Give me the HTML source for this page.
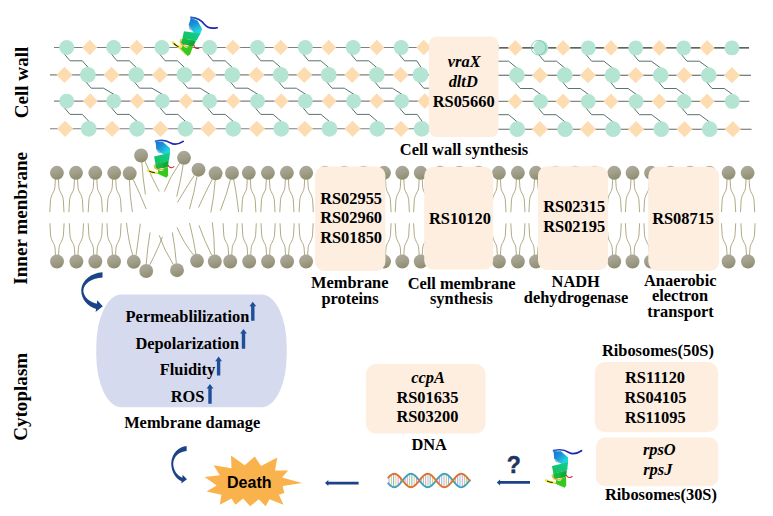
<!DOCTYPE html>
<html><head><meta charset="utf-8"><title>Diagram</title>
<style>html,body{margin:0;padding:0;background:#fff;}body{width:773px;height:516px;overflow:hidden;}svg{display:block;}text{font-family:"Liberation Serif",serif;font-weight:bold;fill:#000;}</style>
</head><body>
<svg width="773" height="516" viewBox="0 0 773 516">
<defs>
<linearGradient id="hg" x1="0.3" y1="0" x2="0.6" y2="1"><stop offset="0" stop-color="#aeaa9f"/><stop offset="0.5" stop-color="#a19e89"/><stop offset="1" stop-color="#8e8c6d"/></linearGradient>
<linearGradient id="pg1" x1="0" y1="0" x2="1" y2="1"><stop offset="0" stop-color="#1a6ad2"/><stop offset="0.4" stop-color="#1b92d8"/><stop offset="0.7" stop-color="#1fcadc"/><stop offset="1" stop-color="#24e6d6"/></linearGradient>
<linearGradient id="pgt" x1="0" y1="0" x2="1" y2="0"><stop offset="0" stop-color="#2268d4"/><stop offset="0.4" stop-color="#1a2cb4"/><stop offset="1" stop-color="#1a22a8"/></linearGradient>
<linearGradient id="pg2" x1="1" y1="0" x2="0" y2="1"><stop offset="0" stop-color="#12cc9a"/><stop offset="1" stop-color="#14c254"/></linearGradient>
<linearGradient id="pg3" x1="0" y1="0" x2="1" y2="1"><stop offset="0" stop-color="#16c04a"/><stop offset="1" stop-color="#12ae38"/></linearGradient>
</defs>
<rect width="773" height="516" fill="#fff"/>
<!-- cell wall -->
<line x1="54.0" y1="47.5" x2="470" y2="47.5" stroke="#7f7f7f" stroke-width="1.1"/>
<line x1="470" y1="47.9" x2="749.0" y2="47.9" stroke="#2e2e2e" stroke-width="1.1"/>
<line x1="50.0" y1="74.9" x2="470" y2="74.9" stroke="#7f7f7f" stroke-width="1.1"/>
<line x1="470" y1="75.2" x2="751.0" y2="75.2" stroke="#555" stroke-width="1.1"/>
<line x1="54.0" y1="101.1" x2="470" y2="101.1" stroke="#7f7f7f" stroke-width="1.1"/>
<line x1="470" y1="101.4" x2="749.4" y2="101.4" stroke="#858585" stroke-width="1.1"/>
<line x1="50.0" y1="128.8" x2="470" y2="128.8" stroke="#7f7f7f" stroke-width="1.1"/>
<line x1="470" y1="129.2" x2="751.5" y2="129.2" stroke="#666" stroke-width="1.1"/>
<path d="M63.9,53.5 L70.0,60.8 L82.3,60.8 L89.4,68.9" fill="none" stroke="#4f6b68" stroke-width="0.95"/>
<path d="M110.9,53.5 L117.0,60.8 L129.3,60.8 L137.8,68.9" fill="none" stroke="#4f6b68" stroke-width="0.95"/>
<path d="M159.1,53.5 L165.2,60.8 L177.5,60.8 L186.0,68.9" fill="none" stroke="#4f6b68" stroke-width="0.95"/>
<path d="M206.8,53.5 L212.9,60.8 L225.2,60.8 L233.8,68.9" fill="none" stroke="#4f6b68" stroke-width="0.95"/>
<path d="M254.7,53.5 L260.8,60.8 L273.1,60.8 L282.2,68.9" fill="none" stroke="#4f6b68" stroke-width="0.95"/>
<path d="M302.5,53.5 L308.6,60.8 L320.9,60.8 L330.2,68.9" fill="none" stroke="#4f6b68" stroke-width="0.95"/>
<path d="M350.4,53.5 L356.5,60.8 L368.8,60.8 L378.3,68.9" fill="none" stroke="#4f6b68" stroke-width="0.95"/>
<path d="M398.4,53.5 L404.5,60.8 L416.8,60.8 L422.0,68.9" fill="none" stroke="#4f6b68" stroke-width="0.95"/>
<path d="M446.2,53.5 L452.3,60.8 L464.6,60.8 L469.5,68.9" fill="none" stroke="#4f6b68" stroke-width="0.95"/>
<path d="M85.1,80.9 L91.2,88.2 L103.5,88.2 L115.2,95.1" fill="none" stroke="#4f6b68" stroke-width="0.95"/>
<path d="M133.5,80.9 L139.6,88.2 L151.9,88.2 L163.8,95.1" fill="none" stroke="#4f6b68" stroke-width="0.95"/>
<path d="M181.7,80.9 L187.8,88.2 L200.1,88.2 L211.1,95.1" fill="none" stroke="#4f6b68" stroke-width="0.95"/>
<path d="M229.5,80.9 L235.6,88.2 L247.9,88.2 L259.0,95.1" fill="none" stroke="#4f6b68" stroke-width="0.95"/>
<path d="M277.9,80.9 L284.0,88.2 L296.3,88.2 L306.8,95.1" fill="none" stroke="#4f6b68" stroke-width="0.95"/>
<path d="M325.9,80.9 L332.0,88.2 L344.3,88.2 L355.1,95.1" fill="none" stroke="#4f6b68" stroke-width="0.95"/>
<path d="M374.0,80.9 L380.1,88.2 L392.4,88.2 L403.1,95.1" fill="none" stroke="#4f6b68" stroke-width="0.95"/>
<path d="M417.7,80.9 L423.8,88.2 L436.1,88.2 L450.9,95.1" fill="none" stroke="#4f6b68" stroke-width="0.95"/>
<path d="M465.2,80.9 L471.3,88.2 L483.6,88.2 L490.5,95.1" fill="none" stroke="#4f6b68" stroke-width="0.95"/>
<path d="M63.9,107.1 L70.0,114.4 L82.3,114.4 L90.2,122.8" fill="none" stroke="#4f6b68" stroke-width="0.95"/>
<path d="M110.9,107.1 L117.0,114.4 L129.3,114.4 L138.6,122.8" fill="none" stroke="#4f6b68" stroke-width="0.95"/>
<path d="M159.5,107.1 L165.6,114.4 L177.9,114.4 L187.0,122.8" fill="none" stroke="#4f6b68" stroke-width="0.95"/>
<path d="M206.8,107.1 L212.9,114.4 L225.2,114.4 L234.8,122.8" fill="none" stroke="#4f6b68" stroke-width="0.95"/>
<path d="M254.7,107.1 L260.8,114.4 L273.1,114.4 L282.8,122.8" fill="none" stroke="#4f6b68" stroke-width="0.95"/>
<path d="M302.5,107.1 L308.6,114.4 L320.9,114.4 L331.0,122.8" fill="none" stroke="#4f6b68" stroke-width="0.95"/>
<path d="M350.8,107.1 L356.9,114.4 L369.2,114.4 L378.9,122.8" fill="none" stroke="#4f6b68" stroke-width="0.95"/>
<path d="M398.8,107.1 L404.9,114.4 L417.2,114.4 L423.2,122.8" fill="none" stroke="#4f6b68" stroke-width="0.95"/>
<path d="M446.6,107.1 L452.7,114.4 L465.0,114.4 L471.0,122.8" fill="none" stroke="#4f6b68" stroke-width="0.95"/>
<path d="M538.1,53.9 L544.2,61.2 L556.5,61.2 L566.2,69.2" fill="none" stroke="#4f6b68" stroke-width="0.95"/>
<path d="M585.5,53.9 L591.6,61.2 L603.9,61.2 L614.0,69.2" fill="none" stroke="#4f6b68" stroke-width="0.95"/>
<path d="M632.9,53.9 L639.0,61.2 L651.3,61.2 L662.2,69.2" fill="none" stroke="#4f6b68" stroke-width="0.95"/>
<path d="M680.9,53.9 L687.0,61.2 L699.3,61.2 L710.2,69.2" fill="none" stroke="#4f6b68" stroke-width="0.95"/>
<path d="M514.1,81.2 L520.2,88.5 L532.5,88.5 L542.0,95.4" fill="none" stroke="#4f6b68" stroke-width="0.95"/>
<path d="M561.9,81.2 L568.0,88.5 L580.3,88.5 L589.8,95.4" fill="none" stroke="#4f6b68" stroke-width="0.95"/>
<path d="M609.7,81.2 L615.8,88.5 L628.1,88.5 L637.6,95.4" fill="none" stroke="#4f6b68" stroke-width="0.95"/>
<path d="M657.9,81.2 L664.0,88.5 L676.3,88.5 L685.6,95.4" fill="none" stroke="#4f6b68" stroke-width="0.95"/>
<path d="M705.9,81.2 L712.0,88.5 L724.3,88.5 L733.8,95.4" fill="none" stroke="#4f6b68" stroke-width="0.95"/>
<path d="M537.7,107.4 L543.8,114.7 L556.1,114.7 L566.6,123.2" fill="none" stroke="#4f6b68" stroke-width="0.95"/>
<path d="M585.5,107.4 L591.6,114.7 L603.9,114.7 L614.6,123.2" fill="none" stroke="#4f6b68" stroke-width="0.95"/>
<path d="M633.3,107.4 L639.4,114.7 L651.7,114.7 L662.8,123.2" fill="none" stroke="#4f6b68" stroke-width="0.95"/>
<path d="M681.3,107.4 L687.4,114.7 L699.7,114.7 L711.2,123.2" fill="none" stroke="#4f6b68" stroke-width="0.95"/>
<path d="M490.2,53.9 L496.3,61.2 L508.6,61.2 L518.4,69.2" fill="none" stroke="#4f6b68" stroke-width="0.95"/>
<path d="M490.2,107.4 L496.3,114.7 L508.6,114.7 L518.8,123.2" fill="none" stroke="#4f6b68" stroke-width="0.95"/>
<path d="M82.2,47.5 L89.7,39.7 L97.2,47.5 L89.7,55.3 Z" fill="#fddcb2"/>
<path d="M129.2,47.5 L136.7,39.7 L144.2,47.5 L136.7,55.3 Z" fill="#fddcb2"/>
<path d="M177.5,47.5 L185.0,39.7 L192.5,47.5 L185.0,55.3 Z" fill="#fddcb2"/>
<path d="M225.4,47.5 L232.9,39.7 L240.4,47.5 L232.9,55.3 Z" fill="#fddcb2"/>
<path d="M273.2,47.5 L280.7,39.7 L288.2,47.5 L280.7,55.3 Z" fill="#fddcb2"/>
<path d="M321.2,47.5 L328.7,39.7 L336.2,47.5 L328.7,55.3 Z" fill="#fddcb2"/>
<path d="M369.3,47.5 L376.8,39.7 L384.3,47.5 L376.8,55.3 Z" fill="#fddcb2"/>
<path d="M416.3,47.5 L423.8,39.7 L431.3,47.5 L423.8,55.3 Z" fill="#fddcb2"/>
<path d="M464.0,47.5 L471.5,39.7 L479.0,47.5 L471.5,55.3 Z" fill="#fddcb2"/>
<circle cx="66.7" cy="47.5" r="7.45" fill="#b4e4d2"/>
<circle cx="113.7" cy="47.5" r="7.45" fill="#b4e4d2"/>
<circle cx="161.9" cy="47.5" r="7.45" fill="#b4e4d2"/>
<circle cx="209.6" cy="47.5" r="7.45" fill="#b4e4d2"/>
<circle cx="257.5" cy="47.5" r="7.45" fill="#b4e4d2"/>
<circle cx="305.3" cy="47.5" r="7.45" fill="#b4e4d2"/>
<circle cx="353.2" cy="47.5" r="7.45" fill="#b4e4d2"/>
<circle cx="401.2" cy="47.5" r="7.45" fill="#b4e4d2"/>
<circle cx="449.0" cy="47.5" r="7.45" fill="#b4e4d2"/>
<circle cx="491.8" cy="47.5" r="7.45" fill="#b4e4d2"/>
<path d="M507.8,47.9 L515.3,40.1 L522.8,47.9 L515.3,55.699999999999996 Z" fill="#fddcb2"/>
<path d="M555.6,47.9 L563.1,40.1 L570.6,47.9 L563.1,55.699999999999996 Z" fill="#fddcb2"/>
<path d="M603.5,47.9 L611.0,40.1 L618.5,47.9 L611.0,55.699999999999996 Z" fill="#fddcb2"/>
<path d="M651.8,47.9 L659.3,40.1 L666.8,47.9 L659.3,55.699999999999996 Z" fill="#fddcb2"/>
<path d="M699.6,47.9 L707.1,40.1 L714.6,47.9 L707.1,55.699999999999996 Z" fill="#fddcb2"/>
<circle cx="540.9" cy="47.9" r="7.45" fill="#b4e4d2"/>
<circle cx="588.3" cy="47.9" r="7.45" fill="#b4e4d2"/>
<circle cx="635.7" cy="47.9" r="7.45" fill="#b4e4d2"/>
<circle cx="683.7" cy="47.9" r="7.45" fill="#b4e4d2"/>
<circle cx="731.9" cy="47.9" r="7.45" fill="#b4e4d2"/>
<path d="M56.4,74.9 L64.5,66.80000000000001 L72.6,74.9 L64.5,83.0 Z" fill="#fddcb2"/>
<path d="M103.4,74.9 L111.5,66.80000000000001 L119.6,74.9 L111.5,83.0 Z" fill="#fddcb2"/>
<path d="M151.8,74.9 L159.9,66.80000000000001 L168.0,74.9 L159.9,83.0 Z" fill="#fddcb2"/>
<path d="M200.4,74.9 L208.5,66.80000000000001 L216.6,74.9 L208.5,83.0 Z" fill="#fddcb2"/>
<path d="M248.4,74.9 L256.5,66.80000000000001 L264.6,74.9 L256.5,83.0 Z" fill="#fddcb2"/>
<path d="M296.2,74.9 L304.3,66.80000000000001 L312.4,74.9 L304.3,83.0 Z" fill="#fddcb2"/>
<path d="M344.1,74.9 L352.2,66.80000000000001 L360.3,74.9 L352.2,83.0 Z" fill="#fddcb2"/>
<path d="M392.5,74.9 L400.6,66.80000000000001 L408.7,74.9 L400.6,83.0 Z" fill="#fddcb2"/>
<path d="M440.4,74.9 L448.5,66.80000000000001 L456.6,74.9 L448.5,83.0 Z" fill="#fddcb2"/>
<circle cx="87.9" cy="74.9" r="7.85" fill="#b4e4d2"/>
<circle cx="136.3" cy="74.9" r="7.85" fill="#b4e4d2"/>
<circle cx="184.5" cy="74.9" r="7.85" fill="#b4e4d2"/>
<circle cx="232.3" cy="74.9" r="7.85" fill="#b4e4d2"/>
<circle cx="280.7" cy="74.9" r="7.85" fill="#b4e4d2"/>
<circle cx="328.7" cy="74.9" r="7.85" fill="#b4e4d2"/>
<circle cx="376.8" cy="74.9" r="7.85" fill="#b4e4d2"/>
<circle cx="420.5" cy="74.9" r="7.85" fill="#b4e4d2"/>
<circle cx="468.0" cy="74.9" r="7.85" fill="#b4e4d2"/>
<path d="M531.8,75.2 L539.9,67.10000000000001 L548.0,75.2 L539.9,83.3 Z" fill="#fddcb2"/>
<path d="M579.8,75.2 L587.9,67.10000000000001 L596.0,75.2 L587.9,83.3 Z" fill="#fddcb2"/>
<path d="M627.6,75.2 L635.7,67.10000000000001 L643.8,75.2 L635.7,83.3 Z" fill="#fddcb2"/>
<path d="M676.0,75.2 L684.1,67.10000000000001 L692.2,75.2 L684.1,83.3 Z" fill="#fddcb2"/>
<path d="M723.8,75.2 L731.9,67.10000000000001 L740.0,75.2 L731.9,83.3 Z" fill="#fddcb2"/>
<circle cx="516.9" cy="75.2" r="7.85" fill="#b4e4d2"/>
<circle cx="564.7" cy="75.2" r="7.85" fill="#b4e4d2"/>
<circle cx="612.5" cy="75.2" r="7.85" fill="#b4e4d2"/>
<circle cx="660.7" cy="75.2" r="7.85" fill="#b4e4d2"/>
<circle cx="708.7" cy="75.2" r="7.85" fill="#b4e4d2"/>
<path d="M82.8,101.1 L90.3,93.3 L97.8,101.1 L90.3,108.89999999999999 Z" fill="#fddcb2"/>
<path d="M129.8,101.1 L137.3,93.3 L144.8,101.1 L137.3,108.89999999999999 Z" fill="#fddcb2"/>
<path d="M178.6,101.1 L186.1,93.3 L193.6,101.1 L186.1,108.89999999999999 Z" fill="#fddcb2"/>
<path d="M225.8,101.1 L233.3,93.3 L240.8,101.1 L233.3,108.89999999999999 Z" fill="#fddcb2"/>
<path d="M273.8,101.1 L281.3,93.3 L288.8,101.1 L281.3,108.89999999999999 Z" fill="#fddcb2"/>
<path d="M321.6,101.1 L329.1,93.3 L336.6,101.1 L329.1,108.89999999999999 Z" fill="#fddcb2"/>
<path d="M369.3,101.1 L376.8,93.3 L384.3,101.1 L376.8,108.89999999999999 Z" fill="#fddcb2"/>
<path d="M417.3,101.1 L424.8,93.3 L432.3,101.1 L424.8,108.89999999999999 Z" fill="#fddcb2"/>
<path d="M465.0,101.1 L472.5,93.3 L480.0,101.1 L472.5,108.89999999999999 Z" fill="#fddcb2"/>
<circle cx="66.7" cy="101.1" r="7.45" fill="#b4e4d2"/>
<circle cx="113.7" cy="101.1" r="7.45" fill="#b4e4d2"/>
<circle cx="162.3" cy="101.1" r="7.45" fill="#b4e4d2"/>
<circle cx="209.6" cy="101.1" r="7.45" fill="#b4e4d2"/>
<circle cx="257.5" cy="101.1" r="7.45" fill="#b4e4d2"/>
<circle cx="305.3" cy="101.1" r="7.45" fill="#b4e4d2"/>
<circle cx="353.6" cy="101.1" r="7.45" fill="#b4e4d2"/>
<circle cx="401.6" cy="101.1" r="7.45" fill="#b4e4d2"/>
<circle cx="449.4" cy="101.1" r="7.45" fill="#b4e4d2"/>
<circle cx="489.0" cy="101.1" r="7.45" fill="#b4e4d2"/>
<path d="M507.8,101.4 L515.3,93.60000000000001 L522.8,101.4 L515.3,109.2 Z" fill="#fddcb2"/>
<path d="M555.6,101.4 L563.1,93.60000000000001 L570.6,101.4 L563.1,109.2 Z" fill="#fddcb2"/>
<path d="M603.5,101.4 L611.0,93.60000000000001 L618.5,101.4 L611.0,109.2 Z" fill="#fddcb2"/>
<path d="M651.8,101.4 L659.3,93.60000000000001 L666.8,101.4 L659.3,109.2 Z" fill="#fddcb2"/>
<path d="M699.6,101.4 L707.1,93.60000000000001 L714.6,101.4 L707.1,109.2 Z" fill="#fddcb2"/>
<circle cx="540.5" cy="101.4" r="7.45" fill="#b4e4d2"/>
<circle cx="588.3" cy="101.4" r="7.45" fill="#b4e4d2"/>
<circle cx="636.1" cy="101.4" r="7.45" fill="#b4e4d2"/>
<circle cx="684.1" cy="101.4" r="7.45" fill="#b4e4d2"/>
<circle cx="732.3" cy="101.4" r="7.45" fill="#b4e4d2"/>
<path d="M57.0,128.8 L65.1,120.70000000000002 L73.2,128.8 L65.1,136.9 Z" fill="#fddcb2"/>
<path d="M104.0,128.8 L112.1,120.70000000000002 L120.2,128.8 L112.1,136.9 Z" fill="#fddcb2"/>
<path d="M152.4,128.8 L160.5,120.70000000000002 L168.6,128.8 L160.5,136.9 Z" fill="#fddcb2"/>
<path d="M200.4,128.8 L208.5,120.70000000000002 L216.6,128.8 L208.5,136.9 Z" fill="#fddcb2"/>
<path d="M248.8,128.8 L256.9,120.70000000000002 L265.0,128.8 L256.9,136.9 Z" fill="#fddcb2"/>
<path d="M296.8,128.8 L304.9,120.70000000000002 L313.0,128.8 L304.9,136.9 Z" fill="#fddcb2"/>
<path d="M344.5,128.8 L352.6,120.70000000000002 L360.7,128.8 L352.6,136.9 Z" fill="#fddcb2"/>
<path d="M392.9,128.8 L401.0,120.70000000000002 L409.1,128.8 L401.0,136.9 Z" fill="#fddcb2"/>
<path d="M440.9,128.8 L449.0,120.70000000000002 L457.1,128.8 L449.0,136.9 Z" fill="#fddcb2"/>
<circle cx="88.7" cy="128.8" r="7.85" fill="#b4e4d2"/>
<circle cx="137.1" cy="128.8" r="7.85" fill="#b4e4d2"/>
<circle cx="185.5" cy="128.8" r="7.85" fill="#b4e4d2"/>
<circle cx="233.3" cy="128.8" r="7.85" fill="#b4e4d2"/>
<circle cx="281.3" cy="128.8" r="7.85" fill="#b4e4d2"/>
<circle cx="329.5" cy="128.8" r="7.85" fill="#b4e4d2"/>
<circle cx="377.4" cy="128.8" r="7.85" fill="#b4e4d2"/>
<circle cx="421.7" cy="128.8" r="7.85" fill="#b4e4d2"/>
<circle cx="469.5" cy="128.8" r="7.85" fill="#b4e4d2"/>
<path d="M531.8,129.2 L539.9,121.1 L548.0,129.2 L539.9,137.29999999999998 Z" fill="#fddcb2"/>
<path d="M579.8,129.2 L587.9,121.1 L596.0,129.2 L587.9,137.29999999999998 Z" fill="#fddcb2"/>
<path d="M628.0,129.2 L636.1,121.1 L644.2,129.2 L636.1,137.29999999999998 Z" fill="#fddcb2"/>
<path d="M676.4,129.2 L684.5,121.1 L692.6,129.2 L684.5,137.29999999999998 Z" fill="#fddcb2"/>
<path d="M724.8,129.2 L732.9,121.1 L741.0,129.2 L732.9,137.29999999999998 Z" fill="#fddcb2"/>
<circle cx="517.3" cy="129.2" r="7.85" fill="#b4e4d2"/>
<circle cx="565.1" cy="129.2" r="7.85" fill="#b4e4d2"/>
<circle cx="613.1" cy="129.2" r="7.85" fill="#b4e4d2"/>
<circle cx="661.3" cy="129.2" r="7.85" fill="#b4e4d2"/>
<circle cx="709.7" cy="129.2" r="7.85" fill="#b4e4d2"/>
<circle cx="538.6" cy="47.7" r="7.3" fill="none" stroke="#6fc3a4" stroke-width="0.8"/>
<rect x="428.9" y="36.5" width="69.6" height="100.5" rx="7.5" ry="7.5" fill="#fdeee0"/>
<!-- membrane -->
<path d="M55.4,178.8 L54.9,187.3 C54.4,192.3 51.5,193.3 50.5,199.8 L49.8,212.2" fill="none" stroke="#9b9566" stroke-width="0.8"/><path d="M58.4,178.8 L58.9,187.3 C59.4,192.3 62.3,193.3 63.3,199.8 L64.0,212.2" fill="none" stroke="#9b9566" stroke-width="0.8"/>
<circle cx="56.9" cy="172.8" r="6.95" fill="url(#hg)"/>
<path d="M74.5,178.8 L74.0,187.3 C73.5,192.3 70.6,193.3 69.6,199.8 L68.9,212.2" fill="none" stroke="#9b9566" stroke-width="0.8"/><path d="M77.5,178.8 L78.0,187.3 C78.5,192.3 81.4,193.3 82.4,199.8 L83.1,212.2" fill="none" stroke="#9b9566" stroke-width="0.8"/>
<circle cx="76.0" cy="172.8" r="6.95" fill="url(#hg)"/>
<path d="M93.8,178.8 L93.3,187.3 C92.8,192.3 89.9,193.3 88.9,199.8 L88.2,212.2" fill="none" stroke="#9b9566" stroke-width="0.8"/><path d="M96.8,178.8 L97.3,187.3 C97.8,192.3 100.7,193.3 101.7,199.8 L102.4,212.2" fill="none" stroke="#9b9566" stroke-width="0.8"/>
<circle cx="95.3" cy="172.8" r="6.95" fill="url(#hg)"/>
<path d="M112.7,178.8 L112.2,187.3 C111.7,192.3 108.8,193.3 107.8,199.8 L107.1,212.2" fill="none" stroke="#9b9566" stroke-width="0.8"/><path d="M115.7,178.8 L116.2,187.3 C116.7,192.3 119.6,193.3 120.6,199.8 L121.3,212.2" fill="none" stroke="#9b9566" stroke-width="0.8"/>
<circle cx="114.2" cy="172.8" r="6.95" fill="url(#hg)"/>
<path d="M247.3,178.8 L246.8,187.3 C246.3,192.3 243.4,193.3 242.4,199.8 L241.7,212.2" fill="none" stroke="#9b9566" stroke-width="0.8"/><path d="M250.3,178.8 L250.8,187.3 C251.3,192.3 254.2,193.3 255.2,199.8 L255.9,212.2" fill="none" stroke="#9b9566" stroke-width="0.8"/>
<circle cx="248.8" cy="172.8" r="6.95" fill="url(#hg)"/>
<path d="M266.4,178.8 L265.9,187.3 C265.4,192.3 262.5,193.3 261.5,199.8 L260.8,212.2" fill="none" stroke="#9b9566" stroke-width="0.8"/><path d="M269.4,178.8 L269.9,187.3 C270.4,192.3 273.3,193.3 274.3,199.8 L275.0,212.2" fill="none" stroke="#9b9566" stroke-width="0.8"/>
<circle cx="267.9" cy="172.8" r="6.95" fill="url(#hg)"/>
<path d="M285.4,178.8 L284.9,187.3 C284.4,192.3 281.5,193.3 280.5,199.8 L279.8,212.2" fill="none" stroke="#9b9566" stroke-width="0.8"/><path d="M288.4,178.8 L288.9,187.3 C289.4,192.3 292.3,193.3 293.3,199.8 L294.0,212.2" fill="none" stroke="#9b9566" stroke-width="0.8"/>
<circle cx="286.9" cy="172.8" r="6.95" fill="url(#hg)"/>
<path d="M304.7,178.8 L304.2,187.3 C303.7,192.3 300.8,193.3 299.8,199.8 L299.1,212.2" fill="none" stroke="#9b9566" stroke-width="0.8"/><path d="M307.7,178.8 L308.2,187.3 C308.7,192.3 311.6,193.3 312.6,199.8 L313.3,212.2" fill="none" stroke="#9b9566" stroke-width="0.8"/>
<circle cx="306.2" cy="172.8" r="6.95" fill="url(#hg)"/>
<path d="M323.5,178.8 L323.0,187.3 C322.5,192.3 319.6,193.3 318.6,199.8 L317.9,212.2" fill="none" stroke="#9b9566" stroke-width="0.8"/><path d="M326.5,178.8 L327.0,187.3 C327.5,192.3 330.4,193.3 331.4,199.8 L332.1,212.2" fill="none" stroke="#9b9566" stroke-width="0.8"/>
<circle cx="325.0" cy="172.8" r="6.95" fill="url(#hg)"/>
<path d="M342.8,178.8 L342.3,187.3 C341.8,192.3 338.9,193.3 337.9,199.8 L337.2,212.2" fill="none" stroke="#9b9566" stroke-width="0.8"/><path d="M345.8,178.8 L346.3,187.3 C346.8,192.3 349.7,193.3 350.7,199.8 L351.4,212.2" fill="none" stroke="#9b9566" stroke-width="0.8"/>
<circle cx="344.3" cy="172.8" r="6.95" fill="url(#hg)"/>
<path d="M362.1,178.8 L361.6,187.3 C361.1,192.3 358.2,193.3 357.2,199.8 L356.5,212.2" fill="none" stroke="#9b9566" stroke-width="0.8"/><path d="M365.1,178.8 L365.6,187.3 C366.1,192.3 369.0,193.3 370.0,199.8 L370.7,212.2" fill="none" stroke="#9b9566" stroke-width="0.8"/>
<circle cx="363.6" cy="172.8" r="6.95" fill="url(#hg)"/>
<path d="M382.5,178.8 L382.0,187.3 C381.5,192.3 378.6,193.3 377.6,199.8 L376.9,212.2" fill="none" stroke="#9b9566" stroke-width="0.8"/><path d="M385.5,178.8 L386.0,187.3 C386.5,192.3 389.4,193.3 390.4,199.8 L391.1,212.2" fill="none" stroke="#9b9566" stroke-width="0.8"/>
<circle cx="384.0" cy="172.8" r="6.95" fill="url(#hg)"/>
<path d="M400.8,178.8 L400.3,187.3 C399.8,192.3 396.9,193.3 395.9,199.8 L395.2,212.2" fill="none" stroke="#9b9566" stroke-width="0.8"/><path d="M403.8,178.8 L404.3,187.3 C404.8,192.3 407.7,193.3 408.7,199.8 L409.4,212.2" fill="none" stroke="#9b9566" stroke-width="0.8"/>
<circle cx="402.3" cy="172.8" r="6.95" fill="url(#hg)"/>
<path d="M419.2,178.8 L418.7,187.3 C418.2,192.3 415.3,193.3 414.3,199.8 L413.6,212.2" fill="none" stroke="#9b9566" stroke-width="0.8"/><path d="M422.2,178.8 L422.7,187.3 C423.2,192.3 426.1,193.3 427.1,199.8 L427.8,212.2" fill="none" stroke="#9b9566" stroke-width="0.8"/>
<circle cx="420.7" cy="172.8" r="6.95" fill="url(#hg)"/>
<path d="M438.5,178.8 L438.0,187.3 C437.5,192.3 434.6,193.3 433.6,199.8 L432.9,212.2" fill="none" stroke="#9b9566" stroke-width="0.8"/><path d="M441.5,178.8 L442.0,187.3 C442.5,192.3 445.4,193.3 446.4,199.8 L447.1,212.2" fill="none" stroke="#9b9566" stroke-width="0.8"/>
<circle cx="440.0" cy="172.8" r="6.95" fill="url(#hg)"/>
<path d="M457.9,178.8 L457.4,187.3 C456.9,192.3 454.0,193.3 453.0,199.8 L452.3,212.2" fill="none" stroke="#9b9566" stroke-width="0.8"/><path d="M460.9,178.8 L461.4,187.3 C461.9,192.3 464.8,193.3 465.8,199.8 L466.5,212.2" fill="none" stroke="#9b9566" stroke-width="0.8"/>
<circle cx="459.4" cy="172.8" r="6.95" fill="url(#hg)"/>
<path d="M477.3,178.8 L476.8,187.3 C476.3,192.3 473.4,193.3 472.4,199.8 L471.7,212.2" fill="none" stroke="#9b9566" stroke-width="0.8"/><path d="M480.3,178.8 L480.8,187.3 C481.3,192.3 484.2,193.3 485.2,199.8 L485.9,212.2" fill="none" stroke="#9b9566" stroke-width="0.8"/>
<circle cx="478.8" cy="172.8" r="6.95" fill="url(#hg)"/>
<path d="M497.4,178.8 L496.9,187.3 C496.4,192.3 493.5,193.3 492.5,199.8 L491.8,212.2" fill="none" stroke="#9b9566" stroke-width="0.8"/><path d="M500.4,178.8 L500.9,187.3 C501.4,192.3 504.3,193.3 505.3,199.8 L506.0,212.2" fill="none" stroke="#9b9566" stroke-width="0.8"/>
<circle cx="498.9" cy="172.8" r="6.95" fill="url(#hg)"/>
<path d="M516.4,178.8 L515.9,187.3 C515.4,192.3 512.5,193.3 511.5,199.8 L510.8,212.2" fill="none" stroke="#9b9566" stroke-width="0.8"/><path d="M519.4,178.8 L519.9,187.3 C520.4,192.3 523.3,193.3 524.3,199.8 L525.0,212.2" fill="none" stroke="#9b9566" stroke-width="0.8"/>
<circle cx="517.9" cy="172.8" r="6.95" fill="url(#hg)"/>
<path d="M534.5,178.8 L534.0,187.3 C533.5,192.3 530.6,193.3 529.6,199.8 L528.9,212.2" fill="none" stroke="#9b9566" stroke-width="0.8"/><path d="M537.5,178.8 L538.0,187.3 C538.5,192.3 541.4,193.3 542.4,199.8 L543.1,212.2" fill="none" stroke="#9b9566" stroke-width="0.8"/>
<circle cx="536.0" cy="172.8" r="6.95" fill="url(#hg)"/>
<path d="M554.0,178.8 L553.5,187.3 C553.0,192.3 550.1,193.3 549.1,199.8 L548.4,212.2" fill="none" stroke="#9b9566" stroke-width="0.8"/><path d="M557.0,178.8 L557.5,187.3 C558.0,192.3 560.9,193.3 561.9,199.8 L562.6,212.2" fill="none" stroke="#9b9566" stroke-width="0.8"/>
<circle cx="555.5" cy="172.8" r="6.95" fill="url(#hg)"/>
<path d="M573.5,178.8 L573.0,187.3 C572.5,192.3 569.6,193.3 568.6,199.8 L567.9,212.2" fill="none" stroke="#9b9566" stroke-width="0.8"/><path d="M576.5,178.8 L577.0,187.3 C577.5,192.3 580.4,193.3 581.4,199.8 L582.1,212.2" fill="none" stroke="#9b9566" stroke-width="0.8"/>
<circle cx="575.0" cy="172.8" r="6.95" fill="url(#hg)"/>
<path d="M593.2,178.8 L592.7,187.3 C592.2,192.3 589.3,193.3 588.3,199.8 L587.6,212.2" fill="none" stroke="#9b9566" stroke-width="0.8"/><path d="M596.2,178.8 L596.7,187.3 C597.2,192.3 600.1,193.3 601.1,199.8 L601.8,212.2" fill="none" stroke="#9b9566" stroke-width="0.8"/>
<circle cx="594.7" cy="172.8" r="6.95" fill="url(#hg)"/>
<path d="M612.7,178.8 L612.2,187.3 C611.7,192.3 608.8,193.3 607.8,199.8 L607.1,212.2" fill="none" stroke="#9b9566" stroke-width="0.8"/><path d="M615.7,178.8 L616.2,187.3 C616.7,192.3 619.6,193.3 620.6,199.8 L621.3,212.2" fill="none" stroke="#9b9566" stroke-width="0.8"/>
<circle cx="614.2" cy="172.8" r="6.95" fill="url(#hg)"/>
<path d="M631.0,178.8 L630.5,187.3 C630.0,192.3 627.1,193.3 626.1,199.8 L625.4,212.2" fill="none" stroke="#9b9566" stroke-width="0.8"/><path d="M634.0,178.8 L634.5,187.3 C635.0,192.3 637.9,193.3 638.9,199.8 L639.6,212.2" fill="none" stroke="#9b9566" stroke-width="0.8"/>
<circle cx="632.5" cy="172.8" r="6.95" fill="url(#hg)"/>
<path d="M649.5,178.8 L649.0,187.3 C648.5,192.3 645.6,193.3 644.6,199.8 L643.9,212.2" fill="none" stroke="#9b9566" stroke-width="0.8"/><path d="M652.5,178.8 L653.0,187.3 C653.5,192.3 656.4,193.3 657.4,199.8 L658.1,212.2" fill="none" stroke="#9b9566" stroke-width="0.8"/>
<circle cx="651.0" cy="172.8" r="6.95" fill="url(#hg)"/>
<path d="M669.0,178.8 L668.5,187.3 C668.0,192.3 665.1,193.3 664.1,199.8 L663.4,212.2" fill="none" stroke="#9b9566" stroke-width="0.8"/><path d="M672.0,178.8 L672.5,187.3 C673.0,192.3 675.9,193.3 676.9,199.8 L677.6,212.2" fill="none" stroke="#9b9566" stroke-width="0.8"/>
<circle cx="670.5" cy="172.8" r="6.95" fill="url(#hg)"/>
<path d="M688.5,178.8 L688.0,187.3 C687.5,192.3 684.6,193.3 683.6,199.8 L682.9,212.2" fill="none" stroke="#9b9566" stroke-width="0.8"/><path d="M691.5,178.8 L692.0,187.3 C692.5,192.3 695.4,193.3 696.4,199.8 L697.1,212.2" fill="none" stroke="#9b9566" stroke-width="0.8"/>
<circle cx="690.0" cy="172.8" r="6.95" fill="url(#hg)"/>
<path d="M708.0,178.8 L707.5,187.3 C707.0,192.3 704.1,193.3 703.1,199.8 L702.4,212.2" fill="none" stroke="#9b9566" stroke-width="0.8"/><path d="M711.0,178.8 L711.5,187.3 C712.0,192.3 714.9,193.3 715.9,199.8 L716.6,212.2" fill="none" stroke="#9b9566" stroke-width="0.8"/>
<circle cx="709.5" cy="172.8" r="6.95" fill="url(#hg)"/>
<path d="M727.1,178.8 L726.6,187.3 C726.1,192.3 723.2,193.3 722.2,199.8 L721.5,212.2" fill="none" stroke="#9b9566" stroke-width="0.8"/><path d="M730.1,178.8 L730.6,187.3 C731.1,192.3 734.0,193.3 735.0,199.8 L735.7,212.2" fill="none" stroke="#9b9566" stroke-width="0.8"/>
<circle cx="728.6" cy="172.8" r="6.95" fill="url(#hg)"/>
<path d="M746.1,178.8 L745.6,187.3 C745.1,192.3 742.2,193.3 741.2,199.8 L740.5,212.2" fill="none" stroke="#9b9566" stroke-width="0.8"/><path d="M749.1,178.8 L749.6,187.3 C750.1,192.3 753.0,193.3 754.0,199.8 L754.7,212.2" fill="none" stroke="#9b9566" stroke-width="0.8"/>
<circle cx="747.6" cy="172.8" r="6.95" fill="url(#hg)"/>
<path d="M55.5,255.5 L55.0,248.0 C54.5,243.0 51.6,242.0 50.6,235.5 L49.9,223.3" fill="none" stroke="#9b9566" stroke-width="0.8"/><path d="M58.5,255.5 L59.0,248.0 C59.5,243.0 62.4,242.0 63.4,235.5 L64.1,223.3" fill="none" stroke="#9b9566" stroke-width="0.8"/>
<circle cx="57.0" cy="261.5" r="6.95" fill="url(#hg)"/>
<path d="M74.9,255.5 L74.4,248.0 C73.9,243.0 71.0,242.0 70.0,235.5 L69.3,223.3" fill="none" stroke="#9b9566" stroke-width="0.8"/><path d="M77.9,255.5 L78.4,248.0 C78.9,243.0 81.8,242.0 82.8,235.5 L83.5,223.3" fill="none" stroke="#9b9566" stroke-width="0.8"/>
<circle cx="76.4" cy="261.5" r="6.95" fill="url(#hg)"/>
<path d="M93.8,255.5 L93.3,248.0 C92.8,243.0 89.9,242.0 88.9,235.5 L88.2,223.3" fill="none" stroke="#9b9566" stroke-width="0.8"/><path d="M96.8,255.5 L97.3,248.0 C97.8,243.0 100.7,242.0 101.7,235.5 L102.4,223.3" fill="none" stroke="#9b9566" stroke-width="0.8"/>
<circle cx="95.3" cy="261.5" r="6.95" fill="url(#hg)"/>
<path d="M112.5,255.5 L112.0,248.0 C111.5,243.0 108.6,242.0 107.6,235.5 L106.9,223.3" fill="none" stroke="#9b9566" stroke-width="0.8"/><path d="M115.5,255.5 L116.0,248.0 C116.5,243.0 119.4,242.0 120.4,235.5 L121.1,223.3" fill="none" stroke="#9b9566" stroke-width="0.8"/>
<circle cx="114.0" cy="261.5" r="6.95" fill="url(#hg)"/>
<path d="M228.7,255.5 L228.2,248.0 C227.7,243.0 224.8,242.0 223.8,235.5 L223.1,223.3" fill="none" stroke="#9b9566" stroke-width="0.8"/><path d="M231.7,255.5 L232.2,248.0 C232.7,243.0 235.6,242.0 236.6,235.5 L237.3,223.3" fill="none" stroke="#9b9566" stroke-width="0.8"/>
<circle cx="230.2" cy="261.5" r="6.95" fill="url(#hg)"/>
<path d="M247.7,255.5 L247.2,248.0 C246.7,243.0 243.8,242.0 242.8,235.5 L242.1,223.3" fill="none" stroke="#9b9566" stroke-width="0.8"/><path d="M250.7,255.5 L251.2,248.0 C251.7,243.0 254.6,242.0 255.6,235.5 L256.3,223.3" fill="none" stroke="#9b9566" stroke-width="0.8"/>
<circle cx="249.2" cy="261.5" r="6.95" fill="url(#hg)"/>
<path d="M266.6,255.5 L266.1,248.0 C265.6,243.0 262.7,242.0 261.7,235.5 L261.0,223.3" fill="none" stroke="#9b9566" stroke-width="0.8"/><path d="M269.6,255.5 L270.1,248.0 C270.6,243.0 273.5,242.0 274.5,235.5 L275.2,223.3" fill="none" stroke="#9b9566" stroke-width="0.8"/>
<circle cx="268.1" cy="261.5" r="6.95" fill="url(#hg)"/>
<path d="M285.6,255.5 L285.1,248.0 C284.6,243.0 281.7,242.0 280.7,235.5 L280.0,223.3" fill="none" stroke="#9b9566" stroke-width="0.8"/><path d="M288.6,255.5 L289.1,248.0 C289.6,243.0 292.5,242.0 293.5,235.5 L294.2,223.3" fill="none" stroke="#9b9566" stroke-width="0.8"/>
<circle cx="287.1" cy="261.5" r="6.95" fill="url(#hg)"/>
<path d="M304.6,255.5 L304.1,248.0 C303.6,243.0 300.7,242.0 299.7,235.5 L299.0,223.3" fill="none" stroke="#9b9566" stroke-width="0.8"/><path d="M307.6,255.5 L308.1,248.0 C308.6,243.0 311.5,242.0 312.5,235.5 L313.2,223.3" fill="none" stroke="#9b9566" stroke-width="0.8"/>
<circle cx="306.1" cy="261.5" r="6.95" fill="url(#hg)"/>
<path d="M323.5,255.5 L323.0,248.0 C322.5,243.0 319.6,242.0 318.6,235.5 L317.9,223.3" fill="none" stroke="#9b9566" stroke-width="0.8"/><path d="M326.5,255.5 L327.0,248.0 C327.5,243.0 330.4,242.0 331.4,235.5 L332.1,223.3" fill="none" stroke="#9b9566" stroke-width="0.8"/>
<circle cx="325.0" cy="261.5" r="6.95" fill="url(#hg)"/>
<path d="M382.5,255.5 L382.0,248.0 C381.5,243.0 378.6,242.0 377.6,235.5 L376.9,223.3" fill="none" stroke="#9b9566" stroke-width="0.8"/><path d="M385.5,255.5 L386.0,248.0 C386.5,243.0 389.4,242.0 390.4,235.5 L391.1,223.3" fill="none" stroke="#9b9566" stroke-width="0.8"/>
<circle cx="384.0" cy="261.5" r="6.95" fill="url(#hg)"/>
<path d="M400.8,255.5 L400.3,248.0 C399.8,243.0 396.9,242.0 395.9,235.5 L395.2,223.3" fill="none" stroke="#9b9566" stroke-width="0.8"/><path d="M403.8,255.5 L404.3,248.0 C404.8,243.0 407.7,242.0 408.7,235.5 L409.4,223.3" fill="none" stroke="#9b9566" stroke-width="0.8"/>
<circle cx="402.3" cy="261.5" r="6.95" fill="url(#hg)"/>
<path d="M419.2,255.5 L418.7,248.0 C418.2,243.0 415.3,242.0 414.3,235.5 L413.6,223.3" fill="none" stroke="#9b9566" stroke-width="0.8"/><path d="M422.2,255.5 L422.7,248.0 C423.2,243.0 426.1,242.0 427.1,235.5 L427.8,223.3" fill="none" stroke="#9b9566" stroke-width="0.8"/>
<circle cx="420.7" cy="261.5" r="6.95" fill="url(#hg)"/>
<path d="M497.4,255.5 L496.9,248.0 C496.4,243.0 493.5,242.0 492.5,235.5 L491.8,223.3" fill="none" stroke="#9b9566" stroke-width="0.8"/><path d="M500.4,255.5 L500.9,248.0 C501.4,243.0 504.3,242.0 505.3,235.5 L506.0,223.3" fill="none" stroke="#9b9566" stroke-width="0.8"/>
<circle cx="498.9" cy="261.5" r="6.95" fill="url(#hg)"/>
<path d="M516.4,255.5 L515.9,248.0 C515.4,243.0 512.5,242.0 511.5,235.5 L510.8,223.3" fill="none" stroke="#9b9566" stroke-width="0.8"/><path d="M519.4,255.5 L519.9,248.0 C520.4,243.0 523.3,242.0 524.3,235.5 L525.0,223.3" fill="none" stroke="#9b9566" stroke-width="0.8"/>
<circle cx="517.9" cy="261.5" r="6.95" fill="url(#hg)"/>
<path d="M534.5,255.5 L534.0,248.0 C533.5,243.0 530.6,242.0 529.6,235.5 L528.9,223.3" fill="none" stroke="#9b9566" stroke-width="0.8"/><path d="M537.5,255.5 L538.0,248.0 C538.5,243.0 541.4,242.0 542.4,235.5 L543.1,223.3" fill="none" stroke="#9b9566" stroke-width="0.8"/>
<circle cx="536.0" cy="261.5" r="6.95" fill="url(#hg)"/>
<path d="M612.7,255.5 L612.2,248.0 C611.7,243.0 608.8,242.0 607.8,235.5 L607.1,223.3" fill="none" stroke="#9b9566" stroke-width="0.8"/><path d="M615.7,255.5 L616.2,248.0 C616.7,243.0 619.6,242.0 620.6,235.5 L621.3,223.3" fill="none" stroke="#9b9566" stroke-width="0.8"/>
<circle cx="614.2" cy="261.5" r="6.95" fill="url(#hg)"/>
<path d="M631.0,255.5 L630.5,248.0 C630.0,243.0 627.1,242.0 626.1,235.5 L625.4,223.3" fill="none" stroke="#9b9566" stroke-width="0.8"/><path d="M634.0,255.5 L634.5,248.0 C635.0,243.0 637.9,242.0 638.9,235.5 L639.6,223.3" fill="none" stroke="#9b9566" stroke-width="0.8"/>
<circle cx="632.5" cy="261.5" r="6.95" fill="url(#hg)"/>
<path d="M649.5,255.5 L649.0,248.0 C648.5,243.0 645.6,242.0 644.6,235.5 L643.9,223.3" fill="none" stroke="#9b9566" stroke-width="0.8"/><path d="M652.5,255.5 L653.0,248.0 C653.5,243.0 656.4,242.0 657.4,235.5 L658.1,223.3" fill="none" stroke="#9b9566" stroke-width="0.8"/>
<circle cx="651.0" cy="261.5" r="6.95" fill="url(#hg)"/>
<path d="M727.1,255.5 L726.6,248.0 C726.1,243.0 723.2,242.0 722.2,235.5 L721.5,223.3" fill="none" stroke="#9b9566" stroke-width="0.8"/><path d="M730.1,255.5 L730.6,248.0 C731.1,243.0 734.0,242.0 735.0,235.5 L735.7,223.3" fill="none" stroke="#9b9566" stroke-width="0.8"/>
<circle cx="728.6" cy="261.5" r="6.95" fill="url(#hg)"/>
<path d="M746.5,255.5 L746.0,248.0 C745.5,243.0 742.6,242.0 741.6,235.5 L740.9,223.3" fill="none" stroke="#9b9566" stroke-width="0.8"/><path d="M749.5,255.5 L750.0,248.0 C750.5,243.0 753.4,242.0 754.4,235.5 L755.1,223.3" fill="none" stroke="#9b9566" stroke-width="0.8"/>
<circle cx="748.0" cy="261.5" r="6.95" fill="url(#hg)"/>
<path d="M129.4,179.5 Q129.8,196 132.4,211.9" fill="none" stroke="#9b9566" stroke-width="0.8"/>
<path d="M133.1,179.3 Q139.6,193 146.2,209" fill="none" stroke="#9b9566" stroke-width="0.8"/>
<circle cx="129.7" cy="173.3" r="6.95" fill="url(#hg)"/>
<path d="M141.8,162 Q142.8,178 145.4,194.4" fill="none" stroke="#9b9566" stroke-width="0.8"/>
<path d="M145,161.2 Q151.5,177 159.2,191.5" fill="none" stroke="#9b9566" stroke-width="0.8"/>
<circle cx="141.1" cy="155.5" r="6.95" fill="url(#hg)"/>
<path d="M179.6,163.2 Q170.5,176 164.3,191.5" fill="none" stroke="#9b9566" stroke-width="0.8"/>
<path d="M183.2,164.4 Q181,180 176.7,196.6" fill="none" stroke="#9b9566" stroke-width="0.8"/>
<circle cx="184.0" cy="157.8" r="6.95" fill="url(#hg)"/>
<path d="M194.1,175.6 Q186,188 177.4,202.4" fill="none" stroke="#9b9566" stroke-width="0.8"/>
<path d="M197,176.4 Q194.5,192 189.5,209" fill="none" stroke="#9b9566" stroke-width="0.8"/>
<circle cx="198.5" cy="169.7" r="6.95" fill="url(#hg)"/>
<path d="M212.3,179.2 Q205.5,192 198.5,207.5" fill="none" stroke="#9b9566" stroke-width="0.8"/>
<path d="M215.2,180 Q214.2,196 210.8,212.6" fill="none" stroke="#9b9566" stroke-width="0.8"/>
<circle cx="215.6" cy="173.3" r="6.95" fill="url(#hg)"/>
<path d="M230.6,179.0 Q227.0,194 220.4,210.6" fill="none" stroke="#9b9566" stroke-width="0.8"/>
<path d="M233.5,179.0 Q236.5,192 238.6,212.2" fill="none" stroke="#9b9566" stroke-width="0.8"/>
<circle cx="232.0" cy="172.9" r="6.95" fill="url(#hg)"/>
<path d="M132.8,255.2 Q128.7,242.6 126.5,223" fill="none" stroke="#9b9566" stroke-width="0.8"/>
<path d="M136,255.2 Q138.2,241.2 140.3,223.7" fill="none" stroke="#9b9566" stroke-width="0.8"/>
<circle cx="133.8" cy="261.8" r="6.95" fill="url(#hg)"/>
<path d="M146.2,264.3 Q147.6,246 150.1,232.4" fill="none" stroke="#9b9566" stroke-width="0.8"/>
<path d="M149.8,264.8 Q158.5,248 162.4,236.8" fill="none" stroke="#9b9566" stroke-width="0.8"/>
<circle cx="146.2" cy="271.0" r="6.95" fill="url(#hg)"/>
<path d="M173.1,264.2 Q163.6,249 159.2,235.3" fill="none" stroke="#9b9566" stroke-width="0.8"/>
<path d="M176.4,263.5 Q174.9,246 172.3,232.4" fill="none" stroke="#9b9566" stroke-width="0.8"/>
<circle cx="177.0" cy="270.2" r="6.95" fill="url(#hg)"/>
<path d="M193.4,254.8 Q184,243.5 177,227.4" fill="none" stroke="#9b9566" stroke-width="0.8"/>
<path d="M195.9,254.1 Q193.4,238 189.5,223" fill="none" stroke="#9b9566" stroke-width="0.8"/>
<circle cx="197.0" cy="260.8" r="6.95" fill="url(#hg)"/>
<path d="M211.6,255 Q204.3,240.5 198.9,225.2" fill="none" stroke="#9b9566" stroke-width="0.8"/>
<path d="M214.5,254.8 Q214.5,238 212.3,222.3" fill="none" stroke="#9b9566" stroke-width="0.8"/>
<circle cx="214.8" cy="261.5" r="6.95" fill="url(#hg)"/>
<rect x="315.2" y="166.5" width="70.2" height="104.5" rx="9" ry="9" fill="#fdeee0"/>
<rect x="424.2" y="166.8" width="68.9" height="102.8" rx="9" ry="9" fill="#fdeee0"/>
<rect x="538.0" y="166.3" width="70.0" height="103.7" rx="9" ry="9" fill="#fdeee0"/>
<rect x="648.3" y="166.8" width="70.8" height="104.0" rx="9" ry="9" fill="#fdeee0"/>
<!-- cytoplasm boxes -->
<rect x="96.3" y="294.5" width="190.4" height="112.8" rx="25" ry="52" fill="#d5daee"/>
<rect x="365.8" y="364" width="119.8" height="69.5" rx="10" ry="10" fill="#fdeee0"/>
<rect x="594.8" y="362" width="123.3" height="70.2" rx="10" ry="10" fill="#fdeee0"/>
<rect x="596.0" y="437.6" width="122.3" height="48.6" rx="9" ry="9" fill="#fdeee0"/>
<!-- peptides -->
<g transform="translate(155.3,140.2) scale(0.0872) translate(-118,-60)">
<path d="M122,72 C180,56 245,60 290,90 C330,114 385,108 438,73" fill="none" stroke="url(#pgt)" stroke-width="19" stroke-linecap="round"/>
<polygon points="116,58 135,78 205,80 286,150 287,215 232,236 128,160 124,100" fill="url(#pg1)"/>
<polygon points="128,160 232,236 205,215 150,200" fill="#0f95b8" opacity="0.6"/>
<polygon points="104,246 286,204 282,240 276,292 120,332" fill="url(#pg2)"/>
<polygon points="118,330 272,294 266,362 150,402 120,380" fill="url(#pg3)"/>
<polygon points="150,402 262,366 266,466 246,492 96,422 150,436" fill="#36c81c"/>
<polygon points="205,340 262,300 266,362 215,385" fill="#0c9a34" opacity="0.55"/>
<polygon points="165,384 216,380 205,408 168,412" fill="#ffffff"/>
<path d="M106,345 C104,385 135,402 178,398 C195,396 208,390 216,384" fill="none" stroke="#f1b93a" stroke-width="15" stroke-linecap="round"/>
<path d="M34,408 C62,424 92,432 128,434" fill="none" stroke="#ecea38" stroke-width="27" stroke-linecap="round"/>
<path d="M52,417 C70,425 88,430 108,432" fill="none" stroke="#1a1a00" stroke-width="11" stroke-linecap="round"/>
<path d="M268,352 C280,378 310,382 332,364" fill="none" stroke="#d8222a" stroke-width="12" stroke-linecap="round"/>
</g>
<g transform="translate(553.2,449.6) scale(0.0885) translate(-118,-60)">
<path d="M122,72 C180,56 245,60 290,90 C330,114 385,108 438,73" fill="none" stroke="url(#pgt)" stroke-width="19" stroke-linecap="round"/>
<polygon points="116,58 135,78 205,80 286,150 287,215 232,236 128,160 124,100" fill="url(#pg1)"/>
<polygon points="128,160 232,236 205,215 150,200" fill="#0f95b8" opacity="0.6"/>
<polygon points="104,246 286,204 282,240 276,292 120,332" fill="url(#pg2)"/>
<polygon points="118,330 272,294 266,362 150,402 120,380" fill="url(#pg3)"/>
<polygon points="150,402 262,366 266,466 246,492 96,422 150,436" fill="#36c81c"/>
<polygon points="205,340 262,300 266,362 215,385" fill="#0c9a34" opacity="0.55"/>
<polygon points="165,384 216,380 205,408 168,412" fill="#ffffff"/>
<path d="M106,345 C104,385 135,402 178,398 C195,396 208,390 216,384" fill="none" stroke="#f1b93a" stroke-width="15" stroke-linecap="round"/>
<path d="M34,408 C62,424 92,432 128,434" fill="none" stroke="#ecea38" stroke-width="27" stroke-linecap="round"/>
<path d="M52,417 C70,425 88,430 108,432" fill="none" stroke="#1a1a00" stroke-width="11" stroke-linecap="round"/>
<path d="M268,352 C280,378 310,382 332,364" fill="none" stroke="#d8222a" stroke-width="12" stroke-linecap="round"/>
</g>
<g transform="translate(191.1,16.2) rotate(21.5) scale(0.0889) translate(-118,-60)">
<path d="M122,72 C180,56 245,60 290,90 C330,114 385,108 438,73" fill="none" stroke="url(#pgt)" stroke-width="19" stroke-linecap="round"/>
<polygon points="116,58 135,78 205,80 286,150 287,215 232,236 128,160 124,100" fill="url(#pg1)"/>
<polygon points="128,160 232,236 205,215 150,200" fill="#0f95b8" opacity="0.6"/>
<polygon points="104,246 286,204 282,240 276,292 120,332" fill="url(#pg2)"/>
<polygon points="118,330 272,294 266,362 150,402 120,380" fill="url(#pg3)"/>
<polygon points="150,402 262,366 266,466 246,492 96,422 150,436" fill="#36c81c"/>
<polygon points="205,340 262,300 266,362 215,385" fill="#0c9a34" opacity="0.55"/>
<polygon points="165,384 216,380 205,408 168,412" fill="#ffffff"/>
<path d="M106,345 C104,385 135,402 178,398 C195,396 208,390 216,384" fill="none" stroke="#f1b93a" stroke-width="15" stroke-linecap="round"/>
<path d="M34,408 C62,424 92,432 128,434" fill="none" stroke="#ecea38" stroke-width="27" stroke-linecap="round"/>
<path d="M52,417 C70,425 88,430 108,432" fill="none" stroke="#1a1a00" stroke-width="11" stroke-linecap="round"/>
<path d="M268,352 C280,378 310,382 332,364" fill="none" stroke="#d8222a" stroke-width="12" stroke-linecap="round"/>
</g>
<!-- text -->
<text transform="translate(28.4,82.5) rotate(-90)" font-size="19.1" text-anchor="middle">Cell wall</text>
<text transform="translate(26.9,218.3) rotate(-90)" font-size="19.1" text-anchor="middle">Inner menbrane</text>
<text transform="translate(26.8,396.8) rotate(-90)" font-size="19.1" text-anchor="middle">Cytoplasm</text>
<text x="464.2" y="67.1" font-size="16.4" text-anchor="middle" font-style="italic">vraX</text>
<text x="463.2" y="86.9" font-size="16.4" text-anchor="middle" font-style="italic">dltD</text>
<text x="463.7" y="106.7" font-size="16.4" text-anchor="middle">RS05660</text>
<text x="464" y="154.5" font-size="16.4" text-anchor="middle">Cell wall synthesis</text>
<text x="351.1" y="203.6" font-size="16.4" text-anchor="middle">RS02955</text>
<text x="351.1" y="223.4" font-size="16.4" text-anchor="middle">RS02960</text>
<text x="351.1" y="243.3" font-size="16.4" text-anchor="middle">RS01850</text>
<text x="460.0" y="224.3" font-size="16.4" text-anchor="middle">RS10120</text>
<text x="574.2" y="212.1" font-size="16.4" text-anchor="middle">RS02315</text>
<text x="574.2" y="231.9" font-size="16.4" text-anchor="middle">RS02195</text>
<text x="683.1" y="223.5" font-size="16.4" text-anchor="middle">RS08715</text>
<text x="349.8" y="288.4" font-size="16.4" text-anchor="middle">Membrane</text>
<text x="350.0" y="303.6" font-size="16.4" text-anchor="middle">proteins</text>
<text x="461.6" y="288.8" font-size="16.4" text-anchor="middle">Cell membrane</text>
<text x="461.4" y="304.0" font-size="16.4" text-anchor="middle">synthesis</text>
<text x="575.7" y="286.5" font-size="16.4" text-anchor="middle">NADH</text>
<text x="576.0" y="302.5" font-size="16.4" text-anchor="middle">dehydrogenase</text>
<text x="680.3" y="285.5" font-size="16.4" text-anchor="middle">Anaerobic</text>
<text x="680.1" y="301.0" font-size="16.4" text-anchor="middle">electron</text>
<text x="680.6" y="316.9" font-size="16.4" text-anchor="middle">transport</text>
<text x="187.5" y="321.7" font-size="16.4" text-anchor="middle">Permeablilization</text>
<text x="187.3" y="348.5" font-size="16.4" text-anchor="middle">Depolarization</text>
<text x="187.5" y="375.3" font-size="16.4" text-anchor="middle">Fluidity</text>
<text x="187.6" y="402.1" font-size="16.4" text-anchor="middle">ROS</text>
<text x="192.2" y="428.1" font-size="16.4" text-anchor="middle">Membrane damage</text>
<text x="428.1" y="383.0" font-size="16.4" text-anchor="middle" font-style="italic">ccpA</text>
<text x="427.4" y="402.9" font-size="16.4" text-anchor="middle">RS01635</text>
<text x="427.4" y="422.3" font-size="16.4" text-anchor="middle">RS03200</text>
<text x="429.2" y="450.1" font-size="16.4" text-anchor="middle">DNA</text>
<text x="657.9" y="355.8" font-size="16.4" text-anchor="middle">Ribosomes(50S)</text>
<text x="655.0" y="383.1" font-size="16.4" text-anchor="middle">RS11120</text>
<text x="655.5" y="403.1" font-size="16.4" text-anchor="middle">RS04105</text>
<text x="655.2" y="422.7" font-size="16.4" text-anchor="middle">RS11095</text>
<text x="659.3" y="455.2" font-size="16.4" text-anchor="middle" font-style="italic">rpsO</text>
<text x="657.8" y="474.6" font-size="16.4" text-anchor="middle" font-style="italic">rpsJ</text>
<text x="660.9" y="500.3" font-size="16.4" text-anchor="middle">Ribosomes(30S)</text>
<polygon points="204.6,477.1 219.8,475.3 213.6,465.2 231.5,468.3 231.0,455.6 244.7,465.2 254.8,456.6 261.0,466.0 277.3,457.4 275.0,470.6 288.2,470.6 282.0,477.6 302.1,483.0 282.7,486.1 284.3,493.1 278.9,494.7 283.5,504.8 269.5,499.3 265.7,506.3 258.7,499.3 250.1,506.3 243.1,498.6 235.4,504.8 231.5,498.6 219.8,504.8 221.4,494.7 206.6,491.6 216.7,485.4" fill="#fab24c"/>
<text x="249.3" y="487.6" font-size="16" text-anchor="middle" style="font-family:'Liberation Sans',sans-serif">Death</text>
<text x="513.7" y="472.6" font-size="23" text-anchor="middle" style="font-family:'Liberation Sans',sans-serif;fill:#1f3361;stroke:#1f3361;stroke-width:0.5px">?</text>
<!-- arrows -->
<path d="M252.8,301.7 L256.2,306.3 L254.5,306.3 L254.5,320.8 L251.10000000000002,320.8 L251.10000000000002,306.3 L249.4,306.3 Z" fill="#1f4e9a"/>
<path d="M243.5,328.9 L246.9,333.5 L245.2,333.5 L245.2,348.7 L241.8,348.7 L241.8,333.5 L240.1,333.5 Z" fill="#1f4e9a"/>
<path d="M218.6,356.6 L222.0,361.20000000000005 L220.29999999999998,361.20000000000005 L220.29999999999998,375.5 L216.9,375.5 L216.9,361.20000000000005 L215.2,361.20000000000005 Z" fill="#1f4e9a"/>
<path d="M210.0,384.0 L213.4,388.6 L211.7,388.6 L211.7,403.8 L208.3,403.8 L208.3,388.6 L206.6,388.6 Z" fill="#1f4e9a"/>
<path d="M325.0,483.1 L328.3,480.1 L328.3,481.68 L358.6,481.68 L358.6,484.52000000000004 L328.3,484.52000000000004 L328.3,486.1 Z" fill="#1d4289"/>
<path d="M496.8,482.4 L500.1,479.4 L500.1,480.97999999999996 L530.0,480.97999999999996 L530.0,483.82 L500.1,483.82 L500.1,485.4 Z" fill="#1d4289"/>
<g transform="translate(70,262) scale(0.10661)"><path d="M305,95 C200,100 110,170 105,262 C105,350 165,415 245,440 L240,468 L308,415 L255,358 L252,392 C190,378 128,335 125,268 C130,200 205,150 305,145 Z" fill="#1b4487"/></g>
<g transform="translate(160,435) scale(0.10661)"><path d="M250,103 C180,108 108,170 105,270 C108,350 150,412 203,434 L200,455 L253,415 L212,372 L210,400 C165,385 126,335 124,270 C128,200 180,155 250,150 Z" fill="#1b4487"/></g>
<line x1="389.0" y1="477.4" x2="389.0" y2="483.6" stroke="#e58ad0" stroke-width="0.9"/>
<line x1="391.3" y1="475.4" x2="391.3" y2="485.6" stroke="#9bd46a" stroke-width="0.9"/>
<line x1="393.6" y1="474.4" x2="393.6" y2="486.6" stroke="#6aa7e0" stroke-width="0.9"/>
<line x1="395.9" y1="474.7" x2="395.9" y2="486.3" stroke="#f0c64a" stroke-width="0.9"/>
<line x1="398.2" y1="476.1" x2="398.2" y2="484.9" stroke="#e58ad0" stroke-width="0.9"/>
<line x1="400.5" y1="478.5" x2="400.5" y2="482.5" stroke="#9bd46a" stroke-width="0.9"/>
<line x1="405.0" y1="478.1" x2="405.0" y2="482.9" stroke="#6ac7c0" stroke-width="0.9"/>
<line x1="407.3" y1="475.9" x2="407.3" y2="485.1" stroke="#e58ad0" stroke-width="0.9"/>
<line x1="409.6" y1="474.6" x2="409.6" y2="486.4" stroke="#9bd46a" stroke-width="0.9"/>
<line x1="411.9" y1="474.5" x2="411.9" y2="486.5" stroke="#6aa7e0" stroke-width="0.9"/>
<line x1="414.2" y1="475.6" x2="414.2" y2="485.4" stroke="#f0c64a" stroke-width="0.9"/>
<line x1="416.5" y1="477.7" x2="416.5" y2="483.3" stroke="#e58ad0" stroke-width="0.9"/>
<line x1="421.1" y1="479.0" x2="421.1" y2="482.0" stroke="#c58ae0" stroke-width="0.9"/>
<line x1="423.4" y1="476.5" x2="423.4" y2="484.5" stroke="#6ac7c0" stroke-width="0.9"/>
<line x1="425.7" y1="474.9" x2="425.7" y2="486.1" stroke="#e58ad0" stroke-width="0.9"/>
<line x1="428.0" y1="474.4" x2="428.0" y2="486.6" stroke="#9bd46a" stroke-width="0.9"/>
<line x1="430.2" y1="475.1" x2="430.2" y2="485.9" stroke="#6aa7e0" stroke-width="0.9"/>
<line x1="432.5" y1="476.9" x2="432.5" y2="484.1" stroke="#f0c64a" stroke-width="0.9"/>
<line x1="439.4" y1="477.2" x2="439.4" y2="483.8" stroke="#c58ae0" stroke-width="0.9"/>
<line x1="441.7" y1="475.3" x2="441.7" y2="485.7" stroke="#6ac7c0" stroke-width="0.9"/>
<line x1="444.0" y1="474.4" x2="444.0" y2="486.6" stroke="#e58ad0" stroke-width="0.9"/>
<line x1="446.3" y1="474.8" x2="446.3" y2="486.2" stroke="#9bd46a" stroke-width="0.9"/>
<line x1="448.6" y1="476.3" x2="448.6" y2="484.7" stroke="#6aa7e0" stroke-width="0.9"/>
<line x1="450.9" y1="478.7" x2="450.9" y2="482.3" stroke="#f0c64a" stroke-width="0.9"/>
<line x1="455.5" y1="478.0" x2="455.5" y2="483.0" stroke="#9bd46a" stroke-width="0.9"/>
<line x1="457.7" y1="475.8" x2="457.7" y2="485.2" stroke="#c58ae0" stroke-width="0.9"/>
<line x1="460.0" y1="474.6" x2="460.0" y2="486.4" stroke="#6ac7c0" stroke-width="0.9"/>
<line x1="462.3" y1="474.5" x2="462.3" y2="486.5" stroke="#e58ad0" stroke-width="0.9"/>
<line x1="464.6" y1="475.7" x2="464.6" y2="485.3" stroke="#9bd46a" stroke-width="0.9"/>
<line x1="466.9" y1="477.9" x2="466.9" y2="483.1" stroke="#6aa7e0" stroke-width="0.9"/>
<polyline points="388.2,483.36 389.0,484.23 389.8,485.02 390.6,485.71 391.4,486.28 392.2,486.72 393.0,487.02 393.8,487.18 394.6,487.18 395.4,487.04 396.2,486.75 397.0,486.31 397.8,485.75 398.6,485.07 399.4,484.28 400.2,483.42 401.0,482.48 401.8,481.50 402.6,480.50 403.4,479.50 404.2,478.52 405.0,477.58 405.8,476.72 406.6,475.93 407.4,475.25 408.2,474.69 409.0,474.25 409.8,473.96 410.6,473.82 411.4,473.82 412.2,473.98 413.0,474.28 413.8,474.72 414.6,475.29 415.4,475.98 416.2,476.77 417.0,477.64 417.8,478.58 418.6,479.56 419.4,480.56 420.2,481.56 421.0,482.54 421.8,483.47 422.6,484.34 423.4,485.11 424.2,485.79 425.0,486.34 425.8,486.77 426.6,487.05 427.4,487.19 428.2,487.17 429.0,487.01 429.8,486.70 430.6,486.25 431.4,485.67 432.2,484.98 433.0,484.18 433.8,483.30 434.6,482.36 435.4,481.38 436.2,480.37 437.0,479.37 437.8,478.40 438.6,477.47 439.4,476.61 440.2,475.84 441.0,475.17 441.8,474.63 442.6,474.21 443.4,473.94 444.2,473.81 445.0,473.83 445.8,474.01 446.6,474.33 447.4,474.78 448.2,475.37 449.0,476.07 449.8,476.87 450.6,477.76 451.4,478.70 452.2,479.69 453.0,480.69 453.8,481.69 454.6,482.66 455.4,483.58 456.2,484.44 457.0,485.20 457.8,485.86 458.6,486.40 459.4,486.81 460.2,487.08 461.0,487.19 461.8,487.16 462.6,486.98 463.4,486.65 464.2,486.18 465.0,485.59 465.8,484.88 466.6,484.07 467.4,483.19 468.2,482.24 469.0,481.25 469.8,480.25" fill="none" stroke="#3fa3bf" stroke-width="1.9" stroke-linecap="round" stroke-linejoin="round"/>
<polyline points="388.2,477.64 389.0,476.77 389.8,475.98 390.6,475.29 391.4,474.72 392.2,474.28 393.0,473.98 393.8,473.82 394.6,473.82 395.4,473.96 396.2,474.25 397.0,474.69 397.8,475.25 398.6,475.93 399.4,476.72 400.2,477.58 401.0,478.52 401.8,479.50 402.6,480.50 403.4,481.50 404.2,482.48 405.0,483.42 405.8,484.28 406.6,485.07 407.4,485.75 408.2,486.31 409.0,486.75 409.8,487.04 410.6,487.18 411.4,487.18 412.2,487.02 413.0,486.72 413.8,486.28 414.6,485.71 415.4,485.02 416.2,484.23 417.0,483.36 417.8,482.42 418.6,481.44 419.4,480.44 420.2,479.44 421.0,478.46 421.8,477.53 422.6,476.66 423.4,475.89 424.2,475.21 425.0,474.66 425.8,474.23 426.6,473.95 427.4,473.81 428.2,473.83 429.0,473.99 429.8,474.30 430.6,474.75 431.4,475.33 432.2,476.02 433.0,476.82 433.8,477.70 434.6,478.64 435.4,479.62 436.2,480.63 437.0,481.63 437.8,482.60 438.6,483.53 439.4,484.39 440.2,485.16 441.0,485.83 441.8,486.37 442.6,486.79 443.4,487.06 444.2,487.19 445.0,487.17 445.8,486.99 446.6,486.67 447.4,486.22 448.2,485.63 449.0,484.93 449.8,484.13 450.6,483.24 451.4,482.30 452.2,481.31 453.0,480.31 453.8,479.31 454.6,478.34 455.4,477.42 456.2,476.56 457.0,475.80 457.8,475.14 458.6,474.60 459.4,474.19 460.2,473.92 461.0,473.81 461.8,473.84 462.6,474.02 463.4,474.35 464.2,474.82 465.0,475.41 465.8,476.12 466.6,476.93 467.4,477.81 468.2,478.76 469.0,479.75 469.8,480.75" fill="none" stroke="#e0702f" stroke-width="1.9" stroke-linecap="round" stroke-linejoin="round"/>
</svg>
</body></html>
